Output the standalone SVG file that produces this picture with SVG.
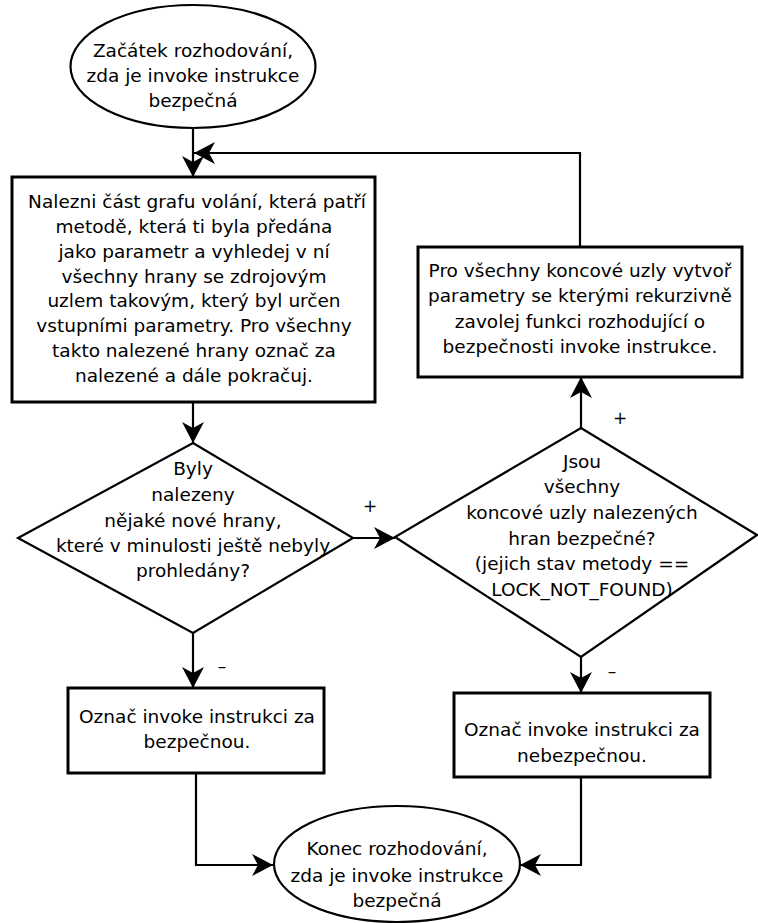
<svg xmlns="http://www.w3.org/2000/svg" width="758" height="923" viewBox="0 0 758 923">
<style>
  .shape { fill: #ffffff; stroke: #000000; stroke-width: 2.2; }
  .box { fill: #ffffff; stroke: #000000; stroke-width: 3; }
  .t { font-family: "DejaVu Sans", "Noto Sans", sans-serif; font-size: 18.5px; fill: #000000; text-anchor: middle; }
  .lbl { font-family: "DejaVu Sans", "Noto Sans", sans-serif; font-size: 17px; fill: #000000; text-anchor: middle; }
  .conn { fill: none; stroke: #000000; stroke-width: 2.2; marker-end: url(#arr); }
</style>
<defs>
  <marker id="arr" markerUnits="userSpaceOnUse" viewBox="-22 -12 23 24" markerWidth="23" markerHeight="24" refX="0" refY="0" orient="auto">
    <path d="M0,0 L-21,-11 L-15,0 L-21,11 Z" fill="#000000"/>
  </marker>
</defs>
<rect width="758" height="923" fill="#ffffff"/>

<g id="connectors">
  <path class="conn" d="M193,128 L193,177"/>
  <path class="conn" d="M193,402 L193,443"/>
  <path class="conn" d="M353,538 L395,538"/>
  <path class="conn" d="M581,428 L581,377"/>
  <path class="conn" d="M580,247 L580,153 L194,153"/>
  <path class="conn" d="M193,633 L193,688"/>
  <path class="conn" d="M581,657 L581,693"/>
  <path class="conn" d="M196,773 L196,865 L273,865"/>
  <path class="conn" d="M581,777 L581,865 L520,865"/>
  <text class="lbl" x="370" y="512">+</text>
  <text class="lbl" x="620" y="424">+</text>
  <text class="lbl" x="222" y="672">–</text>
  <text class="lbl" x="612" y="677">–</text>
</g>

<g id="start">
  <ellipse class="shape" cx="193" cy="66.5" rx="122.5" ry="61.5"/>
  <text class="t" x="193" y="57">Začátek rozhodování,</text>
  <text class="t" x="193" y="82">zda je invoke instrukce</text>
  <text class="t" x="193" y="107">bezpečná</text>
</g>

<g id="find">
  <rect class="box" x="12" y="177" width="363" height="225"/>
  <text class="t" x="197" y="208">Nalezni část grafu volání, která patří</text>
  <text class="t" x="194" y="233">metodě, která ti byla předána</text>
  <text class="t" x="194" y="258">jako parametr a vyhledej v ní</text>
  <text class="t" x="194" y="283">všechny hrany se zdrojovým</text>
  <text class="t" x="194" y="307">uzlem takovým, který byl určen</text>
  <text class="t" x="194" y="332">vstupními parametry. Pro všechny</text>
  <text class="t" x="194" y="357">takto nalezené hrany označ za</text>
  <text class="t" x="194" y="382">nalezené a dále pokračuj.</text>
</g>

<g id="decision1">
  <polygon class="shape" points="193,443 353,538 193,633 18,538"/>
  <text class="t" x="193" y="475">Byly</text>
  <text class="t" x="193" y="501">nalezeny</text>
  <text class="t" x="193" y="526.5">nějaké nové hrany,</text>
  <text class="t" x="193" y="552">které v minulosti ještě nebyly</text>
  <text class="t" x="193" y="577">prohledány?</text>
</g>

<g id="decision2">
  <polygon class="shape" points="581,428 757,535 581,657 395,537"/>
  <text class="t" x="582" y="468">Jsou</text>
  <text class="t" x="582" y="493">všechny</text>
  <text class="t" x="582" y="519">koncové uzly nalezených</text>
  <text class="t" x="582" y="545">hran bezpečné?</text>
  <text class="t" x="582" y="570">(jejich stav metody ==</text>
  <text class="t" x="582" y="596">LOCK_NOT_FOUND)</text>
</g>

<g id="recurse">
  <rect class="box" x="418" y="247" width="324" height="130"/>
  <text class="t" x="580" y="277">Pro všechny koncové uzly vytvoř</text>
  <text class="t" x="580" y="302">parametry se kterými rekurzivně</text>
  <text class="t" x="580" y="327.5">zavolej funkci rozhodující o</text>
  <text class="t" x="580" y="353">bezpečnosti invoke instrukce.</text>
</g>

<g id="safe">
  <rect class="box" x="68" y="688" width="256" height="85"/>
  <text class="t" x="197" y="723">Označ invoke instrukci za</text>
  <text class="t" x="197" y="748">bezpečnou.</text>
</g>

<g id="unsafe">
  <rect class="box" x="454" y="693" width="256" height="84"/>
  <text class="t" x="582" y="736">Označ invoke instrukci za</text>
  <text class="t" x="582" y="762">nebezpečnou.</text>
</g>

<g id="end">
  <ellipse class="shape" cx="397" cy="864" rx="123" ry="58"/>
  <text class="t" x="397" y="855">Konec rozhodování,</text>
  <text class="t" x="397" y="882">zda je invoke instrukce</text>
  <text class="t" x="397" y="907">bezpečná</text>
</g>
</svg>
